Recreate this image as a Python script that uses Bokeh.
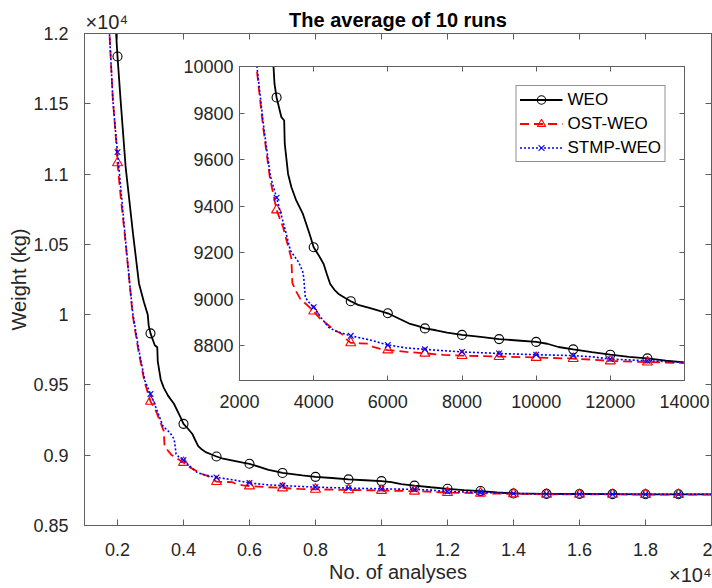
from bokeh.plotting import figure
from bokeh.models import LinearAxis, FixedTicker, Title
from bokeh.layouts import column
from bokeh.embed import file_html
from bokeh.resources import INLINE

# ---------------- data ----------------
TITLE = "The average of 10 runs"
X_LABEL = "No. of analyses"
Y_LABEL = "Weight (kg)"
SERIES_NAMES = ["WEO", "OST-WEO", "STMP-WEO"]
MULTIPLIER = "×10⁴"

X_MIN, X_MAX = 1000, 20000
Y_MIN, Y_MAX = 8500, 12000
IN_X_MIN, IN_X_MAX = 2000, 14000
IN_Y_MIN, IN_Y_MAX = 8650, 10000

main_x_ticks = [2000, 4000, 6000, 8000, 10000, 12000, 14000, 16000, 18000, 20000]
main_x_labels = ["0.2", "0.4", "0.6", "0.8", "1", "1.2", "1.4", "1.6", "1.8", "2"]
main_y_ticks = [8500, 9000, 9500, 10000, 10500, 11000, 11500, 12000]
main_y_labels = ["0.85", "0.9", "0.95", "1", "1.05", "1.1", "1.15", "1.2"]
inset_x_ticks = [2000, 4000, 6000, 8000, 10000, 12000, 14000]
inset_y_ticks = [8800, 9000, 9200, 9400, 9600, 9800, 10000]

marker_x = [2000, 3000, 4000, 5000, 6000, 7000, 8000, 9000, 10000,
            11000, 12000, 13000, 14000, 15000, 16000, 17000, 18000, 19000]

weo_x = [1860, 1950, 2000, 2094, 2246, 2469, 2651, 2800, 2917, 2944, 3000, 3130,
         3205, 3220, 3310, 3400, 3530, 3710, 3890, 4000, 4130, 4269, 4350, 4446,
         4560, 4672, 4850, 5000, 5200, 5500, 5800, 6000, 6250, 6577, 6800, 7000,
         7300, 7600, 8000, 8500, 9000, 9500, 10000, 10300, 10600, 11000, 11500,
         12000, 12500, 13000, 13500, 14000, 15000, 16000, 17000, 18000, 19000, 20000]
weo_y = [12350, 12030, 11836, 11526, 11052, 10578, 10222, 10090, 10000, 9925, 9867, 9782,
         9768, 9668, 9538, 9481, 9424, 9366, 9280, 9223, 9190, 9151, 9110, 9065,
         9040, 9022, 9005, 8991, 8975, 8962, 8948, 8939, 8920, 8895, 8885, 8874,
         8866, 8856, 8846, 8838, 8828, 8822, 8816, 8808, 8794, 8784, 8772,
         8761, 8752, 8745, 8735, 8728, 8725, 8724, 8723, 8722, 8722, 8722]

ost_x = [1740, 1860, 1942, 2000, 2100, 2216, 2368, 2457, 2637, 2817, 3000, 3175,
         3398, 3425, 3520, 3640, 3800, 4000, 4180, 4358, 4550, 4761, 4880, 5000,
         5250, 5480, 5600, 5800, 6000, 6500, 7000, 7500, 8000, 9000, 10000, 11000,
         11500, 12000, 13000, 14000, 15000, 16000, 17000, 18000, 19000, 20000]
ost_y = [12080, 11526, 11289, 11080, 10830, 10578, 10222, 10000, 9739, 9524, 9383, 9309,
         9175, 9070, 9035, 9001, 8978, 8948, 8915, 8893, 8868, 8850, 8828, 8812,
         8810, 8808, 8795, 8786, 8781, 8773, 8767, 8760, 8757, 8753, 8749, 8744,
         8740, 8734, 8729, 8725, 8722, 8721, 8721, 8720, 8720, 8720]

stmp_x = [1740, 1860, 1942, 2000, 2100, 2216, 2368, 2470, 2650, 2830, 3000, 3237,
          3372, 3596, 3700, 3731, 3775, 3850, 4000, 4200, 4403, 4600, 4800, 5000,
          5500, 6000, 6500, 7000, 7500, 8000, 9000, 10000, 11000, 11500, 12000,
          13000, 14000, 15000, 16000, 17000, 18000, 19000, 20000]
stmp_y = [12080, 11526, 11300, 11156, 10900, 10600, 10222, 10000, 9745, 9530, 9436, 9295,
          9209, 9158, 9120, 9094, 9008, 8990, 8965, 8920, 8879, 8862, 8852, 8842,
          8825, 8803, 8790, 8784, 8778, 8773, 8766, 8761, 8757, 8752, 8742,
          8735, 8728, 8724, 8723, 8723, 8722, 8722, 8722]

# ---------------- styles ----------------
FONT = "Liberation Sans"
AX_COLOR = "#5f5f5f"
TXT_COLOR = "#262626"

series = [
    dict(name=SERIES_NAMES[0], x=weo_x, y=weo_y, color="#000000", dash="solid",
         width=1.8, marker="circle", msize=9),
    dict(name=SERIES_NAMES[1], x=ost_x, y=ost_y, color="#ff0000", dash="9 5",
         width=1.8, marker="triangle", msize=10),
    dict(name=SERIES_NAMES[2], x=stmp_x, y=stmp_y, color="#0000ff", dash="2 2",
         width=1.6, marker="x", msize=8),
]


def style_axis(ax, ticks, labels, tick_in, font_size, standoff, show=True):
    ax.ticker = FixedTicker(ticks=ticks)
    if labels is not None:
        ax.major_label_overrides = {t: l for t, l in zip(ticks, labels)}
    ax.major_tick_in = tick_in
    ax.major_tick_out = 0
    ax.minor_tick_line_color = None
    ax.axis_line_color = AX_COLOR
    ax.major_tick_line_color = AX_COLOR
    ax.major_label_text_font = FONT
    ax.axis_label_text_font = FONT
    ax.axis_label_text_font_style = "normal"
    ax.axis_label_text_font_size = "20px"
    ax.axis_label_text_color = TXT_COLOR
    if show:
        ax.major_label_text_color = TXT_COLOR
        ax.major_label_text_font_size = font_size
        ax.major_label_standoff = standoff
    else:
        ax.major_label_text_color = None
        ax.major_label_text_font_size = "0px"
        ax.major_label_standoff = 0
        ax.axis_label = None


def markers_of(s, limit=None):
    lookup = dict(zip(s["x"], s["y"]))
    mx = [x for x in marker_x if x in lookup and (limit is None or x < limit)]
    return mx, [lookup[x] for x in mx]


# ---------------- main figure ----------------
FW, FH = 627, 492
BL, BR, BT, BB = 84, 1, 33, 62
main = figure(frame_width=FW, frame_height=FH,
              x_range=(X_MIN, X_MAX), y_range=(Y_MIN, Y_MAX),
              output_backend="svg", toolbar_location=None,
              min_border_left=BL, min_border_right=BR,
              min_border_top=BT, min_border_bottom=BB)
main.title = Title(text=TITLE, align="center", text_font=FONT, text_font_size="20px",
                   text_font_style="bold", text_color="#000000", standoff=5)
main.xgrid.visible = False
main.ygrid.visible = False
main.outline_line_color = AX_COLOR
main.background_fill_color = "white"
main.border_fill_color = "white"
main.add_layout(LinearAxis(), "above")
main.add_layout(LinearAxis(), "right")

main.below[0].axis_label = X_LABEL
main.left[0].axis_label = Y_LABEL
style_axis(main.below[0], main_x_ticks, main_x_labels, 6, "18px", 17)
style_axis(main.left[0], main_y_ticks, main_y_labels, 6, "18px", 16)
main.below[0].axis_label_standoff = 2
main.left[0].axis_label_standoff = 0
style_axis(main.above[0], main_x_ticks, None, 6, "18px", 0, show=False)
style_axis(main.right[0], main_y_ticks, None, 6, "18px", 0, show=False)

for s in series:
    main.line(s["x"], s["y"], line_color=s["color"], line_width=s["width"],
              line_dash=s["dash"])
    mx, my = markers_of(s)
    main.scatter(mx, my, marker=s["marker"], size=s["msize"], fill_color=None,
                 line_color=s["color"], line_width=1.1)

# ---------------- inset figure ----------------
IN_LEFT_BORDER, IN_TOP_BORDER = 80, 12
inset = figure(frame_width=445, frame_height=314,
               x_range=(IN_X_MIN, IN_X_MAX), y_range=(IN_Y_MIN, IN_Y_MAX),
               output_backend="svg", toolbar_location=None,
               min_border_left=IN_LEFT_BORDER, min_border_right=30,
               min_border_top=IN_TOP_BORDER, min_border_bottom=40)
inset.title = None
inset.xgrid.visible = False
inset.ygrid.visible = False
inset.outline_line_color = AX_COLOR
inset.background_fill_color = "white"
inset.border_fill_alpha = 0
inset.add_layout(LinearAxis(), "above")
inset.add_layout(LinearAxis(), "right")
style_axis(inset.below[0], inset_x_ticks, [str(t) for t in inset_x_ticks], 5, "18px", 14)
style_axis(inset.left[0], inset_y_ticks, [str(t) for t in inset_y_ticks], 5, "18px", 6)
inset.below[0].axis_label = None
inset.left[0].axis_label = None
style_axis(inset.above[0], inset_x_ticks, None, 5, "18px", 0, show=False)
style_axis(inset.right[0], inset_y_ticks, None, 5, "18px", 0, show=False)

for s in series:
    inset.line(s["x"], s["y"], line_color=s["color"], line_width=s["width"],
               line_dash=s["dash"], legend_label=s["name"])
    mx, my = markers_of(s, limit=IN_X_MAX)
    inset.scatter(mx, my, marker=s["marker"], size=s["msize"], fill_color=None,
                  line_color=s["color"], line_width=1.1, legend_label=s["name"])

lg = inset.legend[0]
lg.location = "top_right"
lg.margin = 19
lg.padding = 3
lg.spacing = 3
lg.glyph_width = 43
lg.glyph_height = 21
lg.label_height = 21
lg.label_standoff = 5
lg.label_text_font = FONT
lg.label_text_font_size = "17px"
lg.label_text_color = "#000000"
lg.border_line_color = "#262626"
lg.border_line_width = 1
lg.background_fill_color = "white"
lg.background_fill_alpha = 1

# inset frame sits at page x=237, y=66
inset.styles = {"position": "absolute", "left": f"{235 - IN_LEFT_BORDER}px",
                "top": f"{66 - IN_TOP_BORDER}px"}

# ---------------- transparent overlay carrying the x10^4 multipliers ----------------
OV_BOTTOM = 28
overlay = figure(frame_width=FW, frame_height=FH + BB - OV_BOTTOM,
                 x_range=(0, 1), y_range=(0, 1),
                 output_backend="svg", toolbar_location=None,
                 x_axis_location=None, y_axis_location=None,
                 min_border_left=BL, min_border_right=BR,
                 min_border_top=BT, min_border_bottom=OV_BOTTOM)
overlay.title = None
overlay.xgrid.visible = False
overlay.ygrid.visible = False
for g in overlay.grid:
    g.grid_line_color = None
overlay.outline_line_color = None
overlay.background_fill_alpha = 0
overlay.border_fill_alpha = 0
overlay.add_layout(Title(text=MULTIPLIER, align="left", offset=1, standoff=2,
                         text_font=FONT, text_font_size="20px",
                         text_font_style="normal", text_color=TXT_COLOR), "above")
overlay.add_layout(Title(text=MULTIPLIER, align="right", offset=0, standoff=4,
                         text_font=FONT, text_font_size="20px",
                         text_font_style="normal", text_color=TXT_COLOR), "below")
overlay.styles = {"position": "absolute", "left": "0px", "top": "0px"}

layout = column(main, inset, overlay, styles={"position": "relative"})

open("out.html", "w").write(file_html(layout, INLINE))
